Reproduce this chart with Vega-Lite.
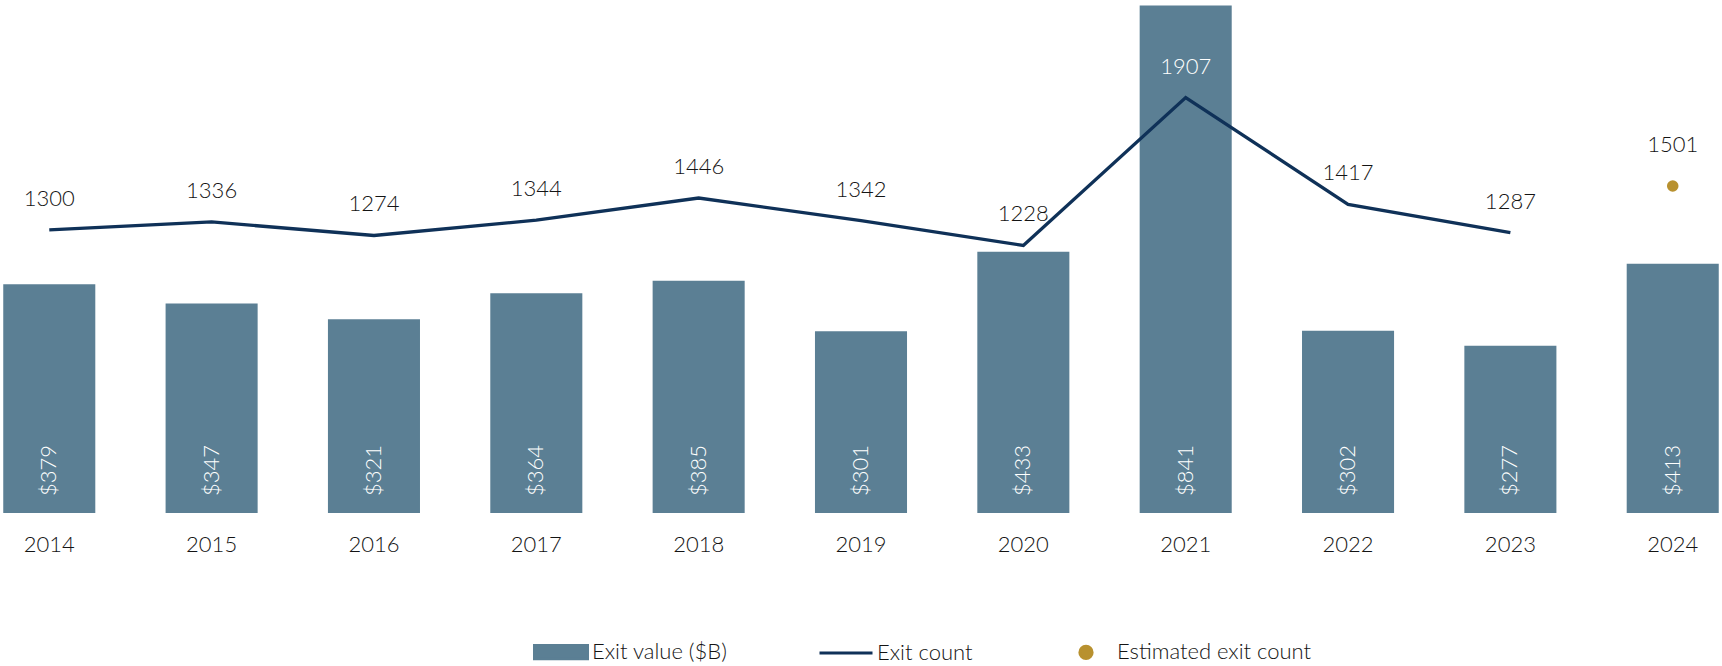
{
  "$schema": "https://vega.github.io/schema/vega-lite/v6.json",
  "width": 1722,
  "height": 513,
  "autosize": {"type": "none"},
  "padding": {"left": 0, "right": 0, "top": 0, "bottom": 153},
  "config": {"view": {"stroke": null}, "font": "Lato"},
  "data": {
    "values": [
      {"year": "2014", "value": 379, "count": 1300},
      {"year": "2015", "value": 347, "count": 1336},
      {"year": "2016", "value": 321, "count": 1274},
      {"year": "2017", "value": 364, "count": 1344},
      {"year": "2018", "value": 385, "count": 1446},
      {"year": "2019", "value": 301, "count": 1342},
      {"year": "2020", "value": 433, "count": 1228},
      {"year": "2021", "value": 841, "count": 1907},
      {"year": "2022", "value": 302, "count": 1417},
      {"year": "2023", "value": 277, "count": 1287},
      {"year": "2024", "value": 413, "est": 1501}
    ]
  },
  "encoding": {
    "x": {
      "field": "year",
      "type": "ordinal",
      "scale": {"paddingInner": 0.433, "paddingOuter": 0.02},
      "axis": {
        "title": null,
        "labelAngle": 0,
        "domain": false,
        "ticks": false,
        "tickSize": 0,
        "labelPadding": 21,
        "labelFontSize": 22,
        "labelFontWeight": 300,
        "labelColor": "#141414",
        "labelFont": "Lato"
      }
    }
  },
  "layer": [
    {
      "layer": [
        {
          "mark": {"type": "bar", "clip": true},
          "encoding": {
            "y": {"field": "value", "type": "quantitative", "scale": {"domain": [0, 850], "nice": false, "zero": true}, "axis": null},
            "color": {
              "datum": "Exit value ($B)",
              "type": "nominal",
              "scale": {
                "domain": ["Exit value ($B)", "Exit count", "Estimated exit count"],
                "range": ["#5b7f94", "#0f3158", "#b8912f"]
              },
              "legend": {
                "orient": "none",
                "legendX": 533,
                "legendY": 624,
                "direction": "horizontal",
                "columns": 3,
                "title": null,
                "symbolSize": 2809,
                "labelFontSize": 22,
                "labelFontWeight": 300,
                "labelColor": "#141414",
                "labelFont": "Lato",
                "labelLimit": 0,
                "labelOffset": 3,
                "columnPadding": 85,
                "encode": {
                  "symbols": {
                    "update": {
                      "shape": {"signal": "datum.value === 'Exit count' ? 'stroke' : datum.value === 'Exit value ($B)' ? 'M-1,-0.25H1V0.25H-1Z' : 'circle'"},
                      "size": {"signal": "datum.value === 'Estimated exit count' ? 150 : 2809"},
                      "fill": {"signal": "datum.value === 'Exit count' ? 'transparent' : datum.value === 'Exit value ($B)' ? '#5b7f94' : '#b8912f'"},
                      "stroke": {"signal": "datum.value === 'Exit count' ? '#0f3158' : 'transparent'"},
                      "strokeWidth": {"value": 3},
                      "opacity": {"value": 1},
                      "fillOpacity": {"value": 1},
                      "strokeOpacity": {"value": 1}
                    }
                  }
                }
              }
            }
          }
        },
        {
          "mark": {"type": "text", "angle": -90, "align": "left", "baseline": "middle", "dx": 17, "fontSize": 22, "fontWeight": 300, "color": "#ffffff", "font": "Lato"},
          "encoding": {
            "y": {"datum": 0, "type": "quantitative"},
            "text": {"field": "value", "type": "quantitative", "format": "$d"}
          }
        }
      ]
    },
    {
      "layer": [
        {
          "transform": [{"filter": "datum.count != null"}],
          "mark": {"type": "line", "strokeWidth": 3.3},
          "encoding": {
            "y": {"field": "count", "type": "quantitative", "scale": {"domain": [0, 2355], "nice": false, "zero": true}, "axis": null},
            "color": {"datum": "Exit count", "type": "nominal"}
          }
        },
        {
          "transform": [{"filter": "datum.count != null"}],
          "mark": {"type": "text", "dy": -31, "fontSize": 22, "fontWeight": 300, "font": "Lato", "baseline": "middle"},
          "encoding": {
            "y": {"field": "count", "type": "quantitative"},
            "text": {"field": "count", "type": "quantitative", "format": "d"},
            "color": {"condition": {"test": "datum.year === '2021'", "value": "#ffffff"}, "value": "#141414"}
          }
        },
        {
          "transform": [{"filter": "datum.est != null"}],
          "mark": {"type": "point", "filled": true, "size": 133, "opacity": 1, "shape": "circle"},
          "encoding": {
            "y": {"field": "est", "type": "quantitative"},
            "color": {"datum": "Estimated exit count", "type": "nominal"}
          }
        },
        {
          "transform": [{"filter": "datum.est != null"}],
          "mark": {"type": "text", "dy": -41, "fontSize": 22, "fontWeight": 300, "font": "Lato", "baseline": "middle", "color": "#141414"},
          "encoding": {
            "y": {"field": "est", "type": "quantitative"},
            "text": {"field": "est", "type": "quantitative", "format": "d"}
          }
        }
      ]
    }
  ],
  "resolve": {"scale": {"y": "independent"}}
}
